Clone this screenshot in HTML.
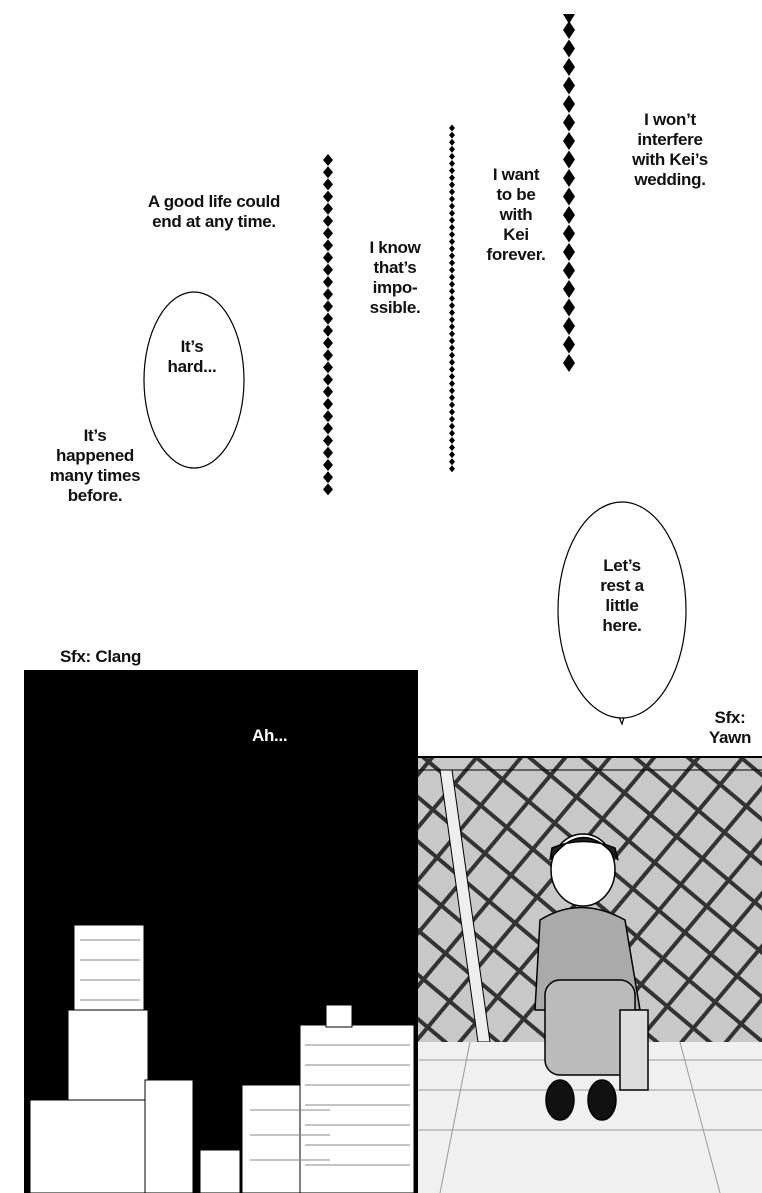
<!DOCTYPE html>
<html><head><meta charset="utf-8"><style>
html,body{margin:0;padding:0;background:#fff;}
body{width:762px;height:1193px;position:relative;overflow:hidden;font-family:"Liberation Sans",sans-serif;}
.t{position:absolute;text-align:center;font-size:17px;line-height:20px;color:#111;font-weight:bold;letter-spacing:-0.3px;}
</style></head><body>
<svg width="762" height="1193" style="position:absolute;left:0;top:0">
<defs>
<pattern id="lat" width="34" height="34" patternUnits="userSpaceOnUse" patternTransform="rotate(40)">
<rect width="34" height="34" fill="#c8c8c8"/>
<rect x="0" y="0" width="34" height="4" fill="#333"/>
<rect x="0" y="0" width="4" height="34" fill="#333"/>
</pattern>
</defs>
<!-- chain 1 -->
<g fill="#000">
<script></script>
</g>
<g id="c1" fill="#000"></g>
<g id="c2" fill="#000"></g>
<g id="c3" fill="#000"></g>
<!-- bubbles -->
<ellipse cx="194" cy="380" rx="50" ry="88" fill="#fff" stroke="#000" stroke-width="1.2"/>
<path d="M614 705 L622 724 L628 705" fill="#fff" stroke="#000" stroke-width="1.2"/>
<ellipse cx="622" cy="610" rx="64" ry="108" fill="#fff" stroke="#000" stroke-width="1.2"/>
<rect x="612" y="700" width="20" height="10" fill="#fff"/>
<!-- black panel -->
<rect x="24" y="670" width="394" height="523" fill="#000"/>
<g fill="#fff" stroke="#000" stroke-width="1">
<rect x="74" y="925" width="70" height="268"/>
<rect x="68" y="1010" width="80" height="183"/>
<rect x="30" y="1100" width="115" height="93"/>
<rect x="145" y="1080" width="48" height="113"/>
<rect x="200" y="1150" width="40" height="43"/>
<rect x="242" y="1085" width="95" height="108"/>
<rect x="300" y="1025" width="114" height="168"/>
<rect x="326" y="1005" width="26" height="22"/>
</g>
<g stroke="#888" stroke-width="1">
<line x1="80" y1="940" x2="140" y2="940"/><line x1="80" y1="960" x2="140" y2="960"/><line x1="80" y1="980" x2="140" y2="980"/><line x1="80" y1="1000" x2="140" y2="1000"/>
<line x1="305" y1="1045" x2="410" y2="1045"/><line x1="305" y1="1065" x2="410" y2="1065"/><line x1="305" y1="1085" x2="410" y2="1085"/><line x1="305" y1="1105" x2="410" y2="1105"/><line x1="305" y1="1125" x2="410" y2="1125"/><line x1="305" y1="1145" x2="410" y2="1145"/><line x1="305" y1="1165" x2="410" y2="1165"/>
<line x1="250" y1="1110" x2="330" y2="1110"/><line x1="250" y1="1135" x2="330" y2="1135"/><line x1="250" y1="1160" x2="330" y2="1160"/>
</g>
<!-- right panel -->
<rect x="418" y="757" width="344" height="285" fill="url(#lat)"/>
<line x1="418" y1="757" x2="762" y2="757" stroke="#000" stroke-width="2"/>
<line x1="418" y1="770" x2="762" y2="770" stroke="#000" stroke-width="1"/>
<polygon points="440,770 452,770 490,1042 478,1042" fill="#eee" stroke="#000"/>
<rect x="418" y="1042" width="344" height="151" fill="#f0f0f0"/>
<g stroke="#999"><line x1="418" y1="1060" x2="762" y2="1060"/><line x1="418" y1="1090" x2="762" y2="1090"/><line x1="418" y1="1130" x2="762" y2="1130"/><line x1="470" y1="1042" x2="440" y2="1193"/><line x1="680" y1="1042" x2="720" y2="1193"/></g>
<!-- figure -->
<g stroke="#000" stroke-width="1.5">
<ellipse cx="583" cy="870" rx="32" ry="36" fill="#fff"/>
<path d="M550 860 Q583 815 618 860 L615 848 Q583 835 552 848Z" fill="#222"/>
<path d="M540 920 Q580 895 625 920 L640 1010 L535 1010Z" fill="#aaa"/>
<rect x="545" y="980" width="90" height="95" rx="15" fill="#bbb"/>
<ellipse cx="560" cy="1100" rx="14" ry="20" fill="#111"/>
<ellipse cx="602" cy="1100" rx="14" ry="20" fill="#111"/>
<rect x="620" y="1010" width="28" height="80" fill="#ddd"/>
</g>
</svg>
<script>
function chain(id,x,y0,y1,w,h,step){var g=document.getElementById(id),s='';for(var y=y0;y<=y1;y+=step){s+='<polygon points="'+x+','+(y-h/2)+' '+(x+w/2)+','+y+' '+x+','+(y+h/2)+' '+(x-w/2)+','+y+'"/>';}g.innerHTML=s;}
chain('c1',328,160,492,10,12,12.2);
chain('c2',452,128,470,6,7,7.1);
chain('c3',569,30,380,12,18,18.5);
</script>
<svg width="762" height="1193" style="position:absolute;left:0;top:0;pointer-events:none"><polygon points="563,14 575,14 569,24" fill="#000"/></svg>
<div class="t" style="left:124px;top:192px;width:180px;">A good life could<br>end at any time.</div>
<div class="t" style="left:350px;top:238px;width:90px;">I know<br>that’s<br>impo-<br>ssible.</div>
<div class="t" style="left:466px;top:165px;width:100px;">I want<br>to be<br>with<br>Kei<br>forever.</div>
<div class="t" style="left:610px;top:110px;width:120px;">I won’t<br>interfere<br>with Kei’s<br>wedding.</div>
<div class="t" style="left:150px;top:337px;width:84px;">It’s<br>hard...</div>
<div class="t" style="left:35px;top:426px;width:120px;">It’s<br>happened<br>many times<br>before.</div>
<div class="t" style="left:572px;top:556px;width:100px;">Let’s<br>rest a<br>little<br>here.</div>
<div class="t" style="left:60px;top:647px;width:110px;text-align:left;">Sfx: Clang</div>
<div class="t" style="left:252px;top:726px;width:50px;color:#fff;text-align:left;">Ah...</div>
<div class="t" style="left:690px;top:708px;width:80px;">Sfx:<br>Yawn</div>
</body></html>
